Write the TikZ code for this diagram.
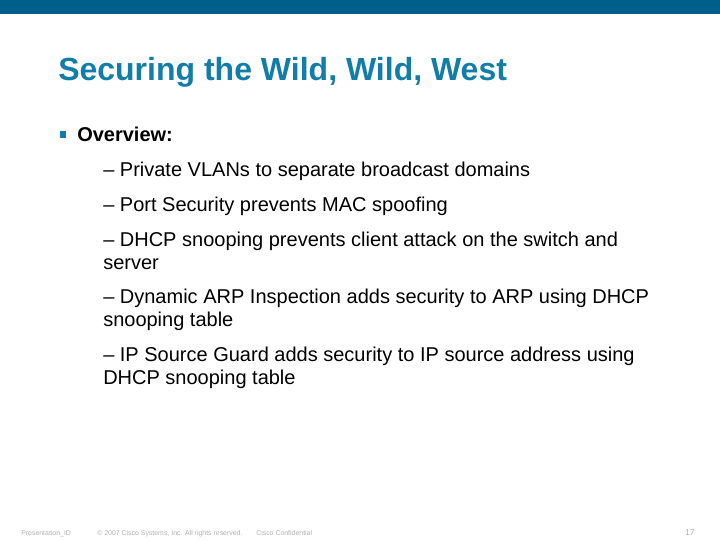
\documentclass[tikz,border=0pt]{standalone}
\usepackage{fontspec}
\usepackage{xcolor}
\setmainfont{Liberation Sans}
\usetikzlibrary{positioning}
\definecolor{barblue}{RGB}{0,94,138}
\definecolor{titleblue}{RGB}{18,125,168}
\definecolor{footgray}{RGB}{175,175,175}
\tikzset{
  titletext/.style={anchor=base west, inner sep=0pt, font=\bfseries\fontsize{24}{28}\selectfont, text=titleblue},
  headtext/.style={anchor=base west, inner sep=0pt, font=\bfseries\fontsize{15}{17}\selectfont},
  itemtext/.style={anchor=north west, inner sep=0pt, align=left, font=\fontsize{15}{17.25}\selectfont},
  foottext/.style={anchor=base west, inner sep=0pt, font=\fontsize{5.2}{6}\selectfont, text=footgray}
}
\begin{document}
\begin{tikzpicture}[x=0.75pt, y=-0.75pt]
      \useasboundingbox (0,0) rectangle (720,540);
      \fill[barblue] (0,0) rectangle (720,14);
      \node[titletext] (title) at (58,80) {Securing the Wild, Wild, West};
      \fill[titleblue] (60,131) rectangle (66,138);
      \node[headtext]  (overview) at (77,141) {Overview:};
      \node[itemtext]  (item_1) at (103,162) {– Private VLANs to separate broadcast domains};
      \node[itemtext]  (item_2) at (103,197) {– Port Security prevents MAC spoofing};
      \node[itemtext]  (item_3) at (103,232) {– DHCP snooping prevents client attack on the switch and\\server};
      \node[itemtext]  (item_4) at (103,289) {– Dynamic ARP Inspection adds security to ARP using DHCP\\snooping table};
      \node[itemtext]  (item_5) at (103,347) {– IP Source Guard adds security to IP source address using\\DHCP snooping table};
      \node[foottext]  (foot_id)   at (21,535)  {Presentation\_ID};
      \node[foottext]  (foot_copy) at (97,535)  {© 2007 Cisco Systems, Inc. All rights reserved.};
      \node[foottext]  (foot_conf) at (256,535) {Cisco Confidential};
      \node[foottext, anchor=base east, font=\fontsize{6.5}{8}\selectfont] (foot_page) at (695,535) {17};
    \end{tikzpicture}
\end{document}
